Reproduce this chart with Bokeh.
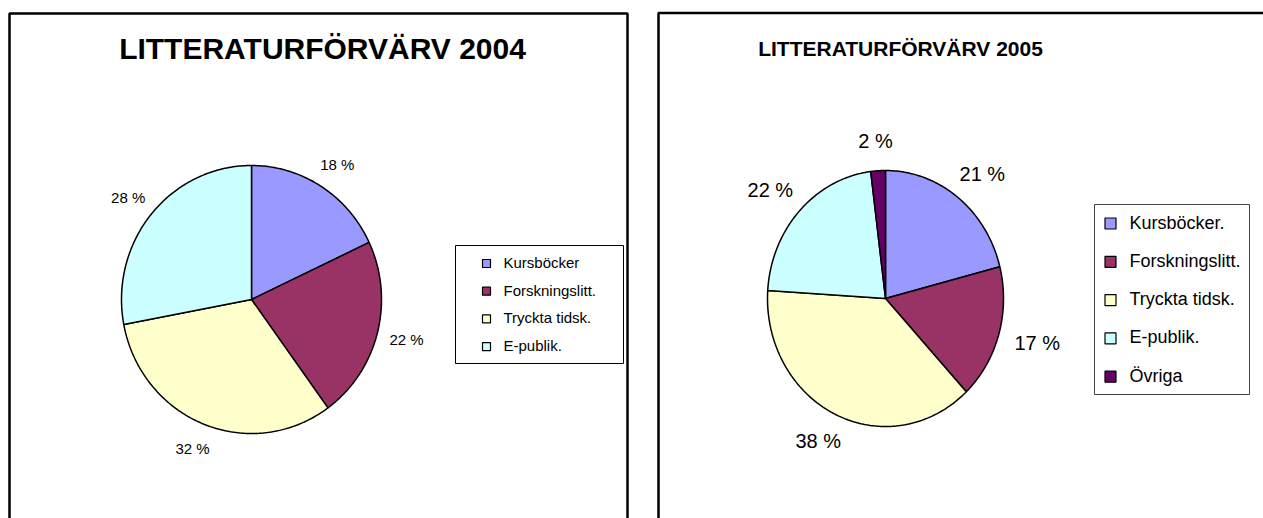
import numpy as np
from bokeh.plotting import figure
from bokeh.models import Range1d, ColumnDataSource
from bokeh.embed import file_html
from bokeh.resources import INLINE
from bokeh.core.properties import value

# ---- data ----
title_2004 = "LITTERATURFÖRVÄRV 2004"
categories_2004 = ["Kursböcker", "Forskningslitt.", "Tryckta tidsk.", "E-publik."]
values_2004 = [18, 22, 32, 28]

title_2005 = "LITTERATURFÖRVÄRV 2005"
categories_2005 = ["Kursböcker.", "Forskningslitt.", "Tryckta tidsk.", "E-publik.", "Övriga"]
values_2005 = [21, 17, 38, 22, 2]

colors = ["#9999FF", "#993366", "#FFFFCC", "#CCFFFF", "#660066"]

FONT = "Liberation Sans"
W, H = 1263, 518

p = figure(width=W, height=H, output_backend="svg", toolbar_location=None,
           x_range=Range1d(0, W), y_range=Range1d(H, 0), min_border=0)
p.axis.visible = False
p.grid.visible = False
p.outline_line_color = None
p.background_fill_color = "white"


def pie(cx, cy, rx, ry, vals, cols, label_r, label_size):
    total = float(sum(vals))
    xs, ys, lx, ly, lt = [], [], [], [], []
    start = 0.0
    for v in vals:
        a0 = start / total * 2 * np.pi
        a1 = (start + v) / total * 2 * np.pi
        t = np.linspace(a0, a1, max(int(v * 4), 8))
        xs.append([cx] + list(cx + rx * np.sin(t)) + [cx])
        ys.append([cy] + list(cy - ry * np.cos(t)) + [cy])
        am = (a0 + a1) / 2
        lx.append(cx + label_r * np.sin(am))
        ly.append(cy - label_r * np.cos(am))
        lt.append("%d %%" % v)
        start += v
    src = ColumnDataSource(dict(xs=xs, ys=ys, c=cols[:len(vals)]))
    p.patches("xs", "ys", source=src, fill_color="c", line_color="black", line_width=1.5)
    p.text(lx, ly, text=lt, text_align="center", text_baseline="middle",
           text_font=value(FONT), text_font_size=label_size, text_color="black")


def legend(x0, x1, y0, y1, cats, cols, row0, step, mx, msize, tx, fsize, border):
    p.quad(left=[x0], right=[x1], top=[y0], bottom=[y1], fill_color="white",
           line_color=border, line_width=1)
    ys = [row0 + i * step for i in range(len(cats))]
    p.rect([mx] * len(cats), [y + 1 for y in ys], width=msize, height=msize,
           fill_color=cols[:len(cats)], line_color="black", line_width=1.2)
    p.text([tx] * len(cats), ys, text=cats, text_align="left", text_baseline="middle",
           text_font=value(FONT), text_font_size=fsize, text_color="black")


# frames
p.line([9, 9, 627, 627], [H + 5, 13, 13, H + 5], line_color="black", line_width=2.5)
p.line([658, 658, W + 5], [H + 5, 12.5, 12.5], line_color="black", line_width=2.5)

# titles
p.text([322], [48], text=[title_2004], text_align="center", text_baseline="middle",
       text_font=value(FONT), text_font_size="30px", text_font_style="bold", text_color="black")
p.text([900], [48], text=[title_2005], text_align="center", text_baseline="middle",
       text_font=value(FONT), text_font_size="21px", text_font_style="bold", text_color="black")

pie(251, 299, 130, 134, values_2004, colors, 160, "15px")
pie(885, 298, 118, 128, values_2005, colors, 158, "20px")

legend(455, 623, 245, 363, categories_2004, colors, 262, 27.7, 486, 8, 503, "15px", "black")
legend(1094, 1249, 204, 394, categories_2005, colors, 222, 38.3, 1110, 11, 1129, "18px", "#444444")

open("out.html", "w").write(file_html(p, INLINE))
